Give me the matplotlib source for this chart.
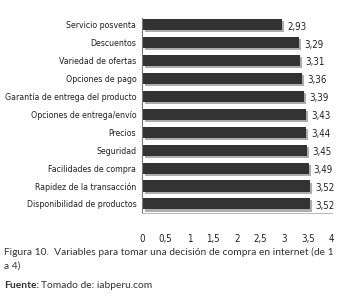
import numpy as np
import matplotlib.pyplot as plt
import matplotlib.patheffects as pe

# Variables (de 1 a 4)
categories = ['Servicio posventa', 'Descuentos', 'Variedad de ofertas', 'Opciones de pago',
              'Garantía de entrega del producto', 'Opciones de entrega/envío', 'Precios',
              'Seguridad', 'Facilidades de compra', 'Rapidez de la transacción',
              'Disponibilidad de productos']
values = [2.93, 3.29, 3.31, 3.36, 3.39, 3.43, 3.44, 3.45, 3.49, 3.52, 3.52]
ticks = [0, 0.5, 1, 1.5, 2, 2.5, 3, 3.5, 4]

narrow = dict(family='DejaVu Sans', stretch='condensed')
caption_font = ['Lato', 'DejaVu Sans']

fig = plt.figure(figsize=(3.46, 3.03), dpi=100)
ax = fig.add_axes([0.41, 0.298, 0.549, 0.643])

y = np.arange(len(categories))
bars = ax.barh(y, values, height=0.62, color='#333333', left=0.02)
for b in bars:
    b.set_path_effects([pe.SimplePatchShadow(offset=(1.5, -1.5), shadow_rgbFace='#999999', alpha=0.8),
                        pe.Normal()])

for yi, v in zip(y, values):
    ax.text(v + 0.13, yi + 0.1, f'{v:.2f}'.replace('.', ','), va='center', ha='left',
            fontsize=7, color='#222222', **narrow)

ax.set_ylim(10.49, -0.39)
ax.set_xlim(0, 4)
ax.set_yticks(y)
ax.set_yticklabels(categories, fontsize=6.3, color='#222222', **narrow)
ax.set_xticks(ticks)
ax.set_xticklabels([str(t).replace('.', ',') if t % 1 else str(int(t)) for t in ticks],
                   fontsize=7, color='#222222', **narrow)
ax.tick_params(axis='both', length=0)
ax.tick_params(axis='x', pad=15)
ax.tick_params(axis='y', pad=4)

for s in ['top', 'right']:
    ax.spines[s].set_visible(False)
ax.spines['left'].set_color('#777777')
ax.spines['left'].set_linewidth(0.8)
ax.spines['bottom'].set_color('#bbbbbb')
ax.spines['bottom'].set_linewidth(0.8)

cap = dict(family=caption_font, fontsize=7.4, color='#333333', va='center')
fig.text(0.012, 0.168, 'Figura 10.  Variables para tomar una decisión de compra en internet (de 1', **cap)
fig.text(0.012, 0.122, 'a 4)', **cap)
t = fig.text(0.012, 0.059, 'Fuente:', weight='bold', **cap)
fig.text(0.118, 0.059, 'Tomado de: iabperu.com', **cap)

fig.savefig('out.png', dpi=100)
